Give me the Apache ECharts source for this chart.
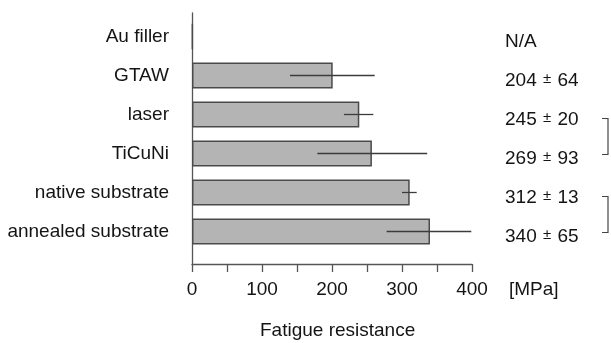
<!DOCTYPE html>
<html>
<head>
<meta charset="utf-8">
<script src="https://cdn.jsdelivr.net/npm/echarts@6/dist/echarts.min.js"></script>
<style>
  html, body { margin: 0; padding: 0; background: #fff; }
  #main { width: 611px; height: 343px; }
</style>
</head>
<body>
<div id="main"></div>
<script>
var categories = ["Au filler", "GTAW", "laser", "TiCuNi", "native substrate", "annealed substrate"];
// bar lengths as drawn
var barValues = [1, 201, 239, 257, 311, 340];
// error bar ends, null where there is none
var errLow = [null, 140, 217, 179, 300, 278];
var errHigh = [null, 261, 259, 336, 321, 399];
// text shown at the right
var meanText = ["N/A", "204", "245", "269", "312", "340"];
var sdText = ["", "64", "20", "93", "13", "65"];
// pairs joined by a bracket
var brackets = [[2, 3], [4, 5]];

var font = "Liberation Sans, Arial, sans-serif";
var textColor = "#141414";
var axisColor = "#555";

var myChart = echarts.init(document.getElementById("main"));

var errData = categories.map(function (c, i) {
  return errLow[i] == null ? null : [errLow[i], errHigh[i], i];
}).filter(function (d) { return d; });

var titleStyle = { fontFamily: font, fontSize: 19, fontWeight: "normal", color: textColor };

myChart.setOption({
  animation: false,
  textStyle: { fontFamily: font },
  title: [
    { text: "Fatigue resistance", left: 260, top: 321, padding: 0, textStyle: titleStyle },
    { text: "[MPa]", left: 509, top: 280, padding: 0, textStyle: titleStyle }
  ],
  grid: [
    { left: 192, right: 139, top: 17, height: 234 },
    { left: 192, right: 139, top: 13, height: 251 }
  ],
  xAxis: [
    { gridIndex: 0, type: "value", min: 0, max: 400, show: false },
    {
      gridIndex: 1,
      type: "value",
      min: 0,
      max: 400,
      interval: 50,
      axisLine: { show: true, onZero: false, lineStyle: { color: axisColor, width: 1.3 } },
      axisTick: { show: true, length: 8, lineStyle: { color: axisColor, width: 1.3 } },
      axisLabel: {
        margin: 16,
        fontSize: 19,
        color: textColor,
        formatter: function (v) { return v % 100 === 0 ? String(v) : ""; }
      },
      splitLine: { show: false }
    }
  ],
  yAxis: [
    {
      gridIndex: 0,
      type: "category",
      inverse: true,
      data: categories,
      axisLine: { show: false },
      axisTick: { show: false },
      axisLabel: { margin: 23, fontSize: 19, color: textColor, padding: [3, 0, 0, 0] }
    },
    {
      gridIndex: 0,
      type: "category",
      position: "right",
      inverse: true,
      data: categories,
      axisLine: { show: false },
      axisTick: { show: false },
      axisLabel: {
        margin: 33,
        align: "left",
        color: textColor,
        padding: [11, 0, 0, 0],
        formatter: function (v, i) {
          if (!sdText[i]) return "{n|" + meanText[i] + "}";
          return "{n|" + meanText[i] + " }{pm|±}{n| " + sdText[i] + "}";
        },
        rich: {
          n: { fontSize: 19, color: textColor, fontFamily: font },
          pm: { fontSize: 15, color: textColor, fontFamily: font, padding: [0, 1, 4, 1] }
        }
      }
    },
    {
      gridIndex: 1,
      type: "value",
      min: 0,
      max: 1,
      axisLine: { show: true, lineStyle: { color: axisColor, width: 1.3 } },
      axisTick: { show: false },
      axisLabel: { show: false },
      splitLine: { show: false }
    }
  ],
  series: [
    {
      type: "bar",
      xAxisIndex: 0,
      yAxisIndex: 0,
      data: barValues,
      barWidth: 26,
      itemStyle: { color: "#b4b4b4", borderColor: "#4a4a4a", borderWidth: 1.5 }
    },
    {
      type: "custom",
      xAxisIndex: 0,
      yAxisIndex: 0,
      data: errData,
      z: 5,
      renderItem: function (params, api) {
        var p1 = api.coord([api.value(0), api.value(2)]);
        var p2 = api.coord([api.value(1), api.value(2)]);
        return {
          type: "line",
          shape: { x1: p1[0], y1: p1[1], x2: p2[0], y2: p2[1] },
          style: { stroke: "#3c3c3c", lineWidth: 1.3 }
        };
      }
    }
  ]
});

// brackets beside the right-hand numbers
var bx = 608;
var graphics = brackets.map(function (b) {
  var y1 = myChart.convertToPixel({ yAxisIndex: 0 }, categories[b[0]]) + 4;
  var y2 = myChart.convertToPixel({ yAxisIndex: 0 }, categories[b[1]]) + 1;
  return {
    type: "polyline",
    shape: { points: [[bx - 6, y1], [bx, y1], [bx, y2], [bx - 6, y2]] },
    style: { stroke: "#444", lineWidth: 1.2, fill: null }
  };
});
myChart.setOption({ graphic: graphics });
</script>
</body>
</html>
